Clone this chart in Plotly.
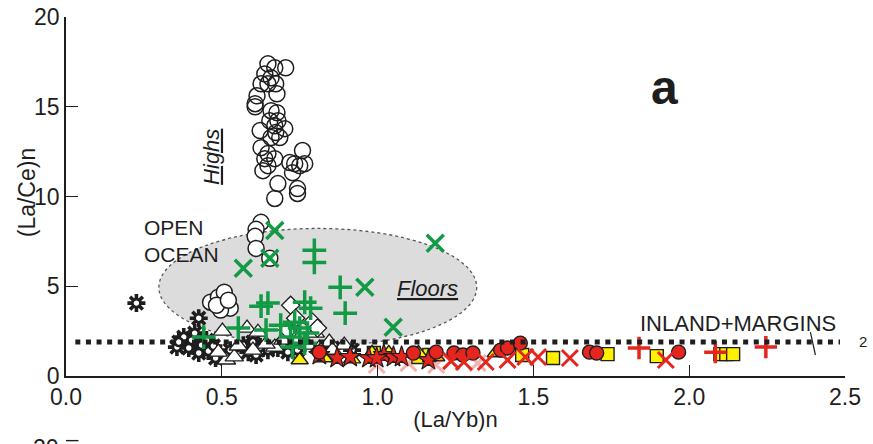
import plotly.graph_objects as go

# ---- data: (La/Yb)n vs (La/Ce)n ----
# open circles, "Highs" group
highs_x = [0.648, 0.670, 0.705, 0.638, 0.658, 0.626, 0.673, 0.648, 0.613, 0.677,
           0.607, 0.607, 0.658, 0.677, 0.654, 0.680, 0.670, 0.702, 0.623, 0.673,
           0.658, 0.686, 0.626, 0.759, 0.648, 0.638, 0.670, 0.718, 0.734, 0.750,
           0.766, 0.648, 0.632, 0.727, 0.680, 0.743, 0.743, 0.670]
highs_y = [17.39, 17.17, 17.17, 16.83, 16.61, 16.28, 16.28, 16.28, 15.61, 15.72,
           15.17, 15.00, 14.78, 14.67, 14.22, 14.22, 13.94, 13.78, 13.67, 13.56,
           13.28, 13.28, 12.72, 12.56, 12.39, 12.11, 12.11, 11.89, 11.83, 11.72,
           11.83, 11.72, 11.44, 11.33, 10.72, 10.44, 10.17, 9.89]

# open circles, lower samples
circ_x = [0.626, 0.610, 0.607, 0.610, 0.654, 0.464, 0.489, 0.508, 0.527, 0.496, 0.483, 0.521]
circ_y = [8.56, 8.17, 7.78, 7.11, 6.56, 4.11, 4.39, 4.67, 3.78, 3.67, 3.94, 4.22]

# green crosses (x)
gx_x = [0.569, 0.670, 0.654, 0.959, 1.185, 1.050]
gx_y = [6.00, 8.11, 6.56, 4.94, 7.40, 2.72]

# green plus
gp_x = [0.797, 0.797, 0.880, 0.896, 0.626, 0.648, 0.766, 0.785, 0.553, 0.642,
        0.689, 0.734, 0.750, 0.775, 0.721, 0.442, 0.766, 0.727]
gp_y = [7.00, 6.33, 4.94, 3.50, 3.89, 4.06, 4.11, 3.78, 2.67, 2.56,
        2.83, 3.00, 2.67, 2.39, 2.17, 2.17, 1.83, 1.61]

# open diamonds
dia_x = [0.721, 0.791, 0.737, 0.807, 0.712]
dia_y = [3.94, 3.00, 3.22, 2.67, 2.56]

# open triangles
tri_x = [0.502, 0.581, 0.616, 0.515, 0.540, 0.800, 0.845, 0.893, 0.670, 0.642,
         0.553, 0.743, 0.696, 0.775, 0.813, 0.600, 0.489, 0.855]
tri_y = [2.50, 2.67, 2.44, 0.89, 1.06, 2.39, 1.89, 1.72, 1.61, 1.78,
         1.67, 2.00, 2.00, 1.72, 1.56, 1.44, 1.33, 1.44]

# sun symbols
sun_x = [0.226, 0.426, 0.378, 0.356, 0.403, 0.435, 0.457, 0.480, 0.426, 0.394,
         0.413, 0.451, 0.362, 0.473, 0.569, 0.600, 0.623, 0.648, 0.585, 0.680,
         0.712, 0.743, 0.610, 0.696, 0.527, 0.855, 0.918]
sun_y = [4.06, 3.22, 2.17, 1.61, 2.00, 1.72, 1.39, 1.00, 1.28, 1.56,
         2.39, 2.00, 1.89, 1.67, 1.72, 1.89, 1.61, 1.44, 1.33, 1.56,
         1.33, 1.44, 1.17, 1.72, 1.44, 1.56, 1.44]

# yellow squares
ysq_x = [0.988, 1.131, 1.166, 1.464, 1.563, 1.738, 1.896, 2.100, 2.119, 2.141]
ysq_y = [1.28, 1.06, 1.17, 1.17, 1.00, 1.22, 1.11, 1.22, 1.22, 1.22]

# yellow triangles
ytri_x = [0.750, 0.829, 0.918, 0.982, 1.188, 1.131, 1.379, 1.036]
ytri_y = [0.89, 1.00, 0.94, 1.28, 1.06, 1.28, 1.28, 1.28]

# red stars
rst_x = [0.870, 0.912, 0.972, 1.020, 1.051, 1.077, 1.163, 0.997, 0.813]
rst_y = [1.00, 1.06, 1.00, 1.17, 1.06, 1.06, 0.89, 1.00, 1.17]

# red circles
rci_x = [1.245, 1.274, 1.306, 1.115, 1.395, 1.417, 1.458, 1.680, 1.703, 1.966, 0.813, 1.188]
rci_y = [1.28, 1.17, 1.28, 1.28, 1.44, 1.56, 1.83, 1.33, 1.28, 1.33, 1.33, 1.33]

# red crosses (x) and faded red crosses
rx_x = [1.347, 1.474, 1.515, 1.617, 1.925, 1.417, 1.277, 1.236]
rx_y = [0.78, 1.06, 1.06, 1.00, 0.89, 0.89, 0.78, 0.83]
rxl_x = [1.099, 1.321, 0.997, 1.188]
rxl_y = [0.72, 0.72, 0.61, 0.61]

# red plus
rp_x = [1.839, 2.084, 2.246]
rp_y = [1.56, 1.33, 1.61]

# reference line (La/Ce)n = 1.9
ref_y = 1.9

GREEN = "#129a45"
RED = "#e4261f"
YELLOW = "#fff000"
INK = "#1e1e1e"

fig = go.Figure()


def add(x, y, symbol, size, color="rgba(0,0,0,0)", lcolor=INK, lwidth=1.4, opacity=1):
    fig.add_trace(go.Scatter(
        x=x, y=y, mode="markers", showlegend=False, hoverinfo="skip",
        opacity=opacity,
        marker=dict(symbol=symbol, size=size, color=color,
                    line=dict(color=lcolor, width=lwidth)),
        cliponaxis=False,
    ))


add(highs_x, highs_y, "circle-open", 16, color=INK, lcolor=INK, lwidth=1.5)
add(circ_x, circ_y, "circle", 16, color="white", lwidth=1.5)
# sun symbol: spokes plus a white disc
add(sun_x, sun_y, "asterisk-open", 15, color=INK, lcolor=INK, lwidth=3.6)
add(sun_x, sun_y, "circle", 8, color="white", lcolor=INK, lwidth=2.6)
add(tri_x, tri_y, "triangle-up", 16, color="white", lwidth=1.3)
add(dia_x, dia_y, "diamond", 14, color="white", lwidth=1.3)
add(ysq_x, ysq_y, "square", 13, color=YELLOW, lwidth=1.4)
add(ytri_x, ytri_y, "triangle-up", 15, color=YELLOW, lwidth=1.4)
add(rst_x, rst_y, "star", 16, color=RED, lwidth=1.2)
add(rci_x, rci_y, "circle", 14, color=RED, lwidth=1.4)
add(rxl_x, rxl_y, "x-thin-open", 16, color=RED, lcolor=RED, lwidth=3, opacity=0.35)
add(rx_x, rx_y, "x-thin-open", 16, color=RED, lcolor=RED, lwidth=3)
add(rp_x, rp_y, "cross-thin-open", 16, color=RED, lcolor=RED, lwidth=3.5)
add(gp_x, gp_y, "cross-thin-open", 17, color=GREEN, lcolor=GREEN, lwidth=3.5)
add(gx_x, gx_y, "x-thin-open", 17, color=GREEN, lcolor=GREEN, lwidth=3.5)

# open-ocean field
fig.add_shape(type="circle", xref="x", yref="y", x0=0.298, x1=1.318, y0=1.66, y1=8.22,
              fillcolor="#dcdcdc", line=dict(color="#555555", width=1.3, dash="dot"),
              layer="below")
# dotted boundary line
fig.add_shape(type="line", xref="x", yref="y", x0=0.03, x1=2.484, y0=ref_y, y1=ref_y,
              line=dict(color=INK, width=5, dash="5px,5.6px"))
fig.add_shape(type="line", xref="x", yref="y", x0=2.389, x1=2.405, y0=2.44, y1=1.17,
              line=dict(color=INK, width=1.2))

TXT = dict(family="Liberation Sans, Arial, sans-serif", color=INK)

ann = [
    dict(x=0.245, y=7.5, text="OPEN<br>OCEAN", size=21, xanchor="left", yanchor="middle"),
    dict(x=0.465, y=12.2, text="<i><u>Highs</u></i>", size=22, textangle=-90),
    dict(x=1.16, y=4.9, text="<i><u>Floors</u></i>", size=22),
    dict(x=1.835, y=2.95, text="INLAND+MARGINS", size=22, xanchor="left"),
    dict(x=1.92, y=16.1, text="<b>a</b>", size=48),
]
for a in ann:
    fig.add_annotation(x=a["x"], y=a["y"], xref="x", yref="y", text=a["text"],
                       showarrow=False, textangle=a.get("textangle", 0),
                       xanchor=a.get("xanchor", "center"), yanchor=a.get("yanchor", "middle"),
                       font=dict(size=a["size"], **TXT), align="left")

fig.add_annotation(x=1.0, y=ref_y, xref="paper", yref="y", text="2", showarrow=False,
                   xanchor="left", xshift=12, font=dict(size=15, **TXT))

# y-axis title
fig.add_annotation(x=-0.0496, y=0.51, xref="paper", yref="paper", text="(La/Ce)n",
                   showarrow=False, textangle=-90, xanchor="center", yanchor="middle",
                   font=dict(size=23, **TXT))

# top of the next panel's axis
fig.add_annotation(x=0, y=-0.158, xref="paper", yref="paper", text="20", showarrow=False,
                   xanchor="right", yanchor="top", xshift=-5, font=dict(size=23, **TXT))
fig.add_shape(type="line", xref="paper", yref="paper", x0=0, x1=0.016, y0=-0.18, y1=-0.18,
              line=dict(color=INK, width=1.4))

axis_common = dict(showgrid=False, zeroline=False, showline=True, linecolor=INK, linewidth=1.5,
                   ticks="inside", tickcolor=INK, tickwidth=1.3, mirror=False,
                   tickfont=dict(size=23, **TXT))

fig.update_layout(
    width=873, height=444,
    margin=dict(l=66, r=20, t=17, b=68),
    paper_bgcolor="white", plot_bgcolor="white",
    xaxis=dict(range=[0, 2.5], tickvals=[0, 0.5, 1.0, 1.5, 2.0, 2.5], tickformat=".1f",
               ticklen=11, title=dict(text="(La/Yb)n", font=dict(size=22, **TXT), standoff=2),
               **axis_common),
    yaxis=dict(range=[0, 20], tickvals=[0, 5, 10, 15, 20], ticklen=12, automargin=False,
               **axis_common),
)

fig.write_html("out.html")
